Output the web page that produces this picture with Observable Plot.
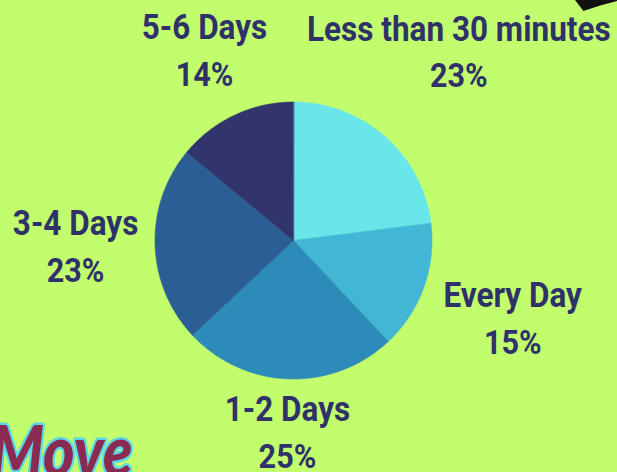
<!DOCTYPE html>
<html>
<head>
<meta charset="utf-8">
<script src="https://cdn.jsdelivr.net/npm/d3@7"></script>
<script src="https://cdn.jsdelivr.net/npm/@observablehq/plot@0.6"></script>
<style>
  html, body { margin: 0; padding: 0; background: #c2fd6e; overflow: hidden; }
  #chart { position: relative; width: 617px; height: 472px; overflow: hidden; }
  #chart svg { display: block; }
  #corner { position: absolute; left: 575px; top: 0; width: 42px; height: 11px; background: #111;
    clip-path: polygon(0 0, 100% 0, 100% 8%, 60% 50%, 20% 100%); }
</style>
</head>
<body>
<div id="chart"><div id="corner"></div></div>
<script>
// ---- data ----
const categories = ["Less than 30 minutes", "Every Day", "1-2 Days", "3-4 Days", "5-6 Days"];
const shares = [23, 15, 25, 23, 14];
const pctLabels = ["23%", "15%", "25%", "23%", "14%"];

// ---- style / layout ----
const colors = ["#69e6e9", "#41b7d5", "#2d8bb9", "#2b5e95", "#31356b"];
const labelRadius = [250, 233, 193, 218, 209];
const W = 617, H = 472, cx = 293, cy = 240, R = 138.5;
const textColor = "#2f3269";

const arcs = d3.pie().sort(null).value(d => d)(shares);

const sliceMarks = arcs.map((a, i) => {
  const pts = [{x: cx, y: cy}];
  const steps = Math.max(2, Math.ceil((a.endAngle - a.startAngle) / (Math.PI / 360)));
  for (let k = 0; k <= steps; k++) {
    const t = a.startAngle + (a.endAngle - a.startAngle) * k / steps;
    pts.push({x: cx + R * Math.sin(t), y: cy - R * Math.cos(t)});
  }
  return Plot.line(pts, {x: "x", y: "y", fill: colors[i], stroke: colors[i], strokeWidth: 0.6, curve: "linear-closed"});
});

const labels = arcs.map((a, i) => {
  const m = (a.startAngle + a.endAngle) / 2;
  return {
    name: categories[i],
    pct: pctLabels[i],
    x: cx + labelRadius[i] * Math.sin(m),
    y: cy - labelRadius[i] * Math.cos(m)
  };
});

const chart = Plot.plot({
  width: W,
  height: H,
  margin: 0,
  style: {background: "transparent"},
  x: {domain: [0, W], range: [0, W], axis: null},
  y: {domain: [0, H], range: [0, H], axis: null},
  marks: [
    Plot.text(["Move"], {x: () => -10, y: () => 453, text: d => d, textAnchor: "start",
      fontSize: 70, fontWeight: 900, fontStyle: "italic", fontFamily: "Lato",
      fill: "#8b2b52", stroke: "#5ad6e8", strokeWidth: 5, paintOrder: "stroke", className: "deco"}),
    ...sliceMarks,
    Plot.text(labels, {x: "x", y: d => d.y - 23.5, text: "name", fill: textColor,
      fontSize: 35, fontWeight: 700, fontFamily: "Roboto", className: "lbl"}),
    Plot.text(labels, {x: "x", y: d => d.y + 23.5, text: "pct", fill: textColor,
      fontSize: 34, fontWeight: 700, fontFamily: "Roboto", className: "lbl"})
  ]
});

document.getElementById("chart").prepend(chart);

// condense the labels (reference uses a condensed face)
chart.querySelectorAll(".lbl text").forEach(t => {
  const w = t.getComputedTextLength();
  t.setAttribute("textLength", (w * 0.9).toFixed(1));
  t.setAttribute("lengthAdjust", "spacingAndGlyphs");
});
chart.querySelectorAll(".deco text").forEach(t => {
  t.setAttribute("textLength", "142");
  t.setAttribute("lengthAdjust", "spacingAndGlyphs");
});
</script>
</body>
</html>
